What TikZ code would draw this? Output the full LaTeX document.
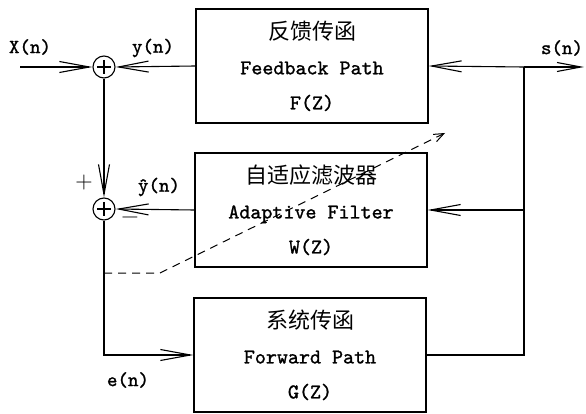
\documentclass[tikz,border=0pt]{standalone}
\usepackage{fontspec}
\newfontfamily\cjk{Noto Sans CJK SC}
\newfontfamily\sigtt{lmmono10-regular.otf}[FakeBold=1.2]
\usetikzlibrary{arrows.meta}
\tikzset{
  blockbox/.style={draw, line width=1.1pt, minimum width=232pt, minimum height=114pt,
    align=center, inner sep=0pt, font=\fontsize{21}{35}\selectfont\sigtt},
  sumnode/.style={circle, draw, line width=1.1pt, minimum size=22pt, inner sep=0pt,
    path picture={\draw[line width=1.1pt]
      ([xshift=4pt]path picture bounding box.west) -- ([xshift=-4pt]path picture bounding box.east)
      ([yshift=-4pt]path picture bounding box.north) -- ([yshift=4pt]path picture bounding box.south);}},
  sig/.style={font=\fontsize{20}{22}\selectfont\sigtt, inner sep=1pt},
  arr/.style={line width=1.1pt, -{Straight Barb[length=30pt,width=11pt]}},
  wire/.style={line width=1.1pt}
}
\begin{document}
\begin{tikzpicture}[x=1pt, y=-1pt]
  \useasboundingbox (0,0) rectangle (586,414);
  % blocks
  \node[blockbox] (fb) at (312,66) {{\cjk\fontsize{22}{35}\selectfont 反馈传函}\\Feedback Path\\F(Z)};
  \node[blockbox] (af) at (311,210) {{\cjk\fontsize{22}{35}\selectfont 自适应滤波器}\\Adaptive Filter\\W(Z)};
  \node[blockbox] (fg) at (310,355) {{\cjk\fontsize{22}{35}\selectfont 系统传函}\\Forward Path\\G(Z)};
  % summing points
  \node[sumnode] (s1) at (104,67) {};
  \node[sumnode] (s2) at (104,209) {};
  \coordinate (xin) at (20,67);
  \coordinate (jr) at (524,67);
  \coordinate (sout) at (584,67);
  % signals
  \draw[arr] (xin) -- (s1.west);
  \draw[arr] (fb.west) -- (s1.east);
  \draw[arr] (jr) -- (fb.east);
  \draw[wire, -{Straight Barb[length=24pt,width=9pt]}] (jr) -- (sout);
  \draw[wire] (jr) |- (fg.east);
  \draw[arr] (jr |- af.east) -- (af.east);
  \draw[arr] (af.west) -- (s2.east);
  \draw[arr] (s1.south) -- (s2.north);
  \draw[arr] (s2.south) |- (fg.west);
  % adaption path
  \coordinate (d0) at (104,273);
  \coordinate (d1) at (160,273);
  \coordinate (d2) at (445,133);
  \draw[line width=1pt, dash pattern=on 8pt off 6pt, -{Straight Barb[length=10pt,width=8pt]}] (d0) -- (d1) -- (d2);
  % labels
  \node[sig] (lx) at (30,47) {X(n)};
  \node[sig] (ly) at (153,48) {y(n)};
  \node[sig] (lyh) at (159,187) {\^{y}(n)};
  \node[sig] (ls) at (562,48) {s(n)};
  \node[sig] (le) at (128,380) {e(n)};
  \node[font=\fontsize{24}{24}\selectfont] (lplus) at (84,183) {+};
  \node[font=\fontsize{24}{24}\selectfont] (lminus) at (130,220) {\textminus};
\end{tikzpicture}
\end{document}
